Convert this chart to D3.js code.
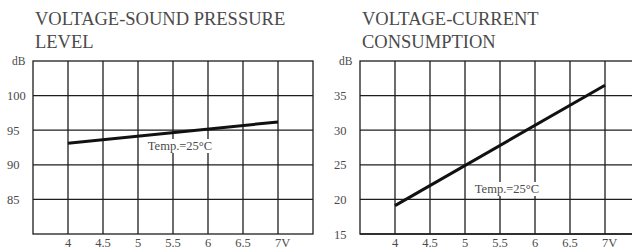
<!DOCTYPE html>
<html>
<head>
<meta charset="utf-8">
<script src="https://cdn.jsdelivr.net/npm/d3@7"></script>
<style>
  body { margin: 0; background: #fff; }
</style>
</head>
<body>
<div class="chart"></div>
<script>
// values
var voltTicks = [4, 4.5, 5, 5.5, 6, 6.5, 7];
var voltLabels = ["4", "4.5", "5", "5.5", "6", "6.5", "7V"];

var splTicks = [85, 90, 95, 100];
var splVolts = [4, 7];
var splValues = [93.1, 96.2];

var curTicks = [15, 20, 25, 30, 35];
var curVolts = [4, 7];
var curValues = [19.1, 36.5];

var svg = d3.select(".chart").append("svg")
    .attr("width", 632)
    .attr("height", 252)
    .style("font-family", "'Liberation Serif', 'Times New Roman', Times, 'DejaVu Serif', serif")
    .style("fill", "#4a4a4a");

function drawChart(left, title, yDomain, yTicks, xs, ys, tempPos)
{
  var x = d3.scaleLinear().domain([3.5, 7.5]).range([left, left + 280]);
  var y = d3.scaleLinear().domain(yDomain).range([234, 61]);

  var g = svg.append("g");

  // title, two lines
  g.selectAll("text.title")
    .data(title)
    .enter()
      .append("text")
      .attr("class", "title")
      .attr("x", left + 2)
      .attr("y", function(d, i)
        {
          return 25 + i * 23;
        })
      .attr("font-size", 18.5)
      .text(function(d) { return d; });

  // grid
  g.selectAll("line.v")
    .data(voltTicks)
    .enter()
      .append("line")
      .attr("x1", function(d) { return x(d); })
      .attr("x2", function(d) { return x(d); })
      .attr("y1", y(yDomain[0]))
      .attr("y2", y(yDomain[1]))
      .attr("stroke", "#1e1e1e")
      .attr("stroke-width", 1.3);

  g.selectAll("line.h")
    .data(yTicks)
    .enter()
      .append("line")
      .attr("x1", x(3.5))
      .attr("x2", x(7.5))
      .attr("y1", function(d) { return y(d); })
      .attr("y2", function(d) { return y(d); })
      .attr("stroke", "#1e1e1e")
      .attr("stroke-width", 1.3);

  g.append("rect")
    .attr("x", x(3.5))
    .attr("y", y(yDomain[1]))
    .attr("width", x(7.5) - x(3.5))
    .attr("height", y(yDomain[0]) - y(yDomain[1]))
    .attr("fill", "none")
    .attr("stroke", "#1e1e1e")
    .attr("stroke-width", 1.3);

  // axis labels
  g.selectAll("text.ylab")
    .data(yTicks)
    .enter()
      .append("text")
      .attr("x", left - 26)
      .attr("y", function(d) { return y(d) + 4.5; })
      .attr("font-size", 12.5)
      .text(function(d) { return d; });

  g.append("text")
    .attr("x", left - 21)
    .attr("y", y(yDomain[1]) + 4)
    .attr("font-size", 11.5)
    .text("dB");

  g.selectAll("text.xlab")
    .data(voltTicks)
    .enter()
      .append("text")
      .attr("x", function(d, i)
        {
          return i == voltTicks.length - 1 ? x(d) - 3 : x(d);
        })
      .attr("y", 247)
      .attr("font-size", 12.5)
      .attr("text-anchor", function(d, i)
        {
          return i == voltTicks.length - 1 ? "start" : "middle";
        })
      .text(function(d, i) { return voltLabels[i]; });

  // curve
  var line = d3.line()
    .x(function(d) { return x(d[0]); })
    .y(function(d) { return y(d[1]); });

  g.append("path")
    .datum(d3.zip(xs, ys))
    .attr("d", line)
    .attr("fill", "none")
    .attr("stroke", "#111")
    .attr("stroke-width", 3);

  // temperature note on white
  var note = g.append("text")
    .attr("x", tempPos[0])
    .attr("y", tempPos[1])
    .attr("font-size", 12.5)
    .attr("text-anchor", "middle")
    .text("Temp.=25\u00B0C");
  var b = note.node().getBBox();
  g.insert("rect", function() { return note.node(); })
    .attr("x", b.x - 2)
    .attr("y", b.y)
    .attr("width", b.width + 4)
    .attr("height", b.height)
    .attr("fill", "#fff");
}

drawChart(33, ["VOLTAGE-SOUND PRESSURE", "LEVEL"], [80, 105], splTicks, splVolts, splValues, [180, 150]);
drawChart(360, ["VOLTAGE-CURRENT", "CONSUMPTION"], [15, 40], curTicks, curVolts, curValues, [507, 193]);
</script>
</body>
</html>
